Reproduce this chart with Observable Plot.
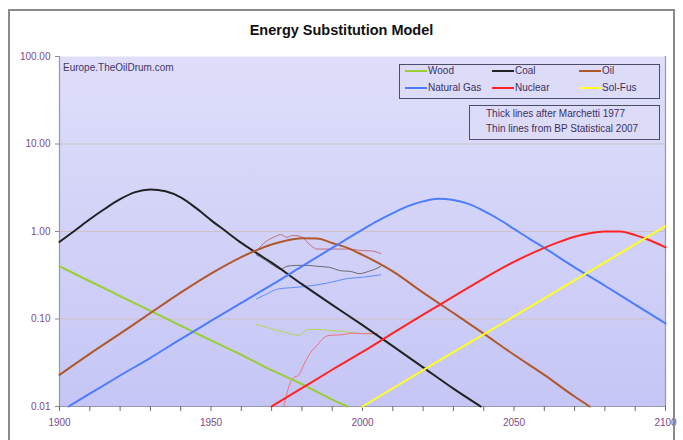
<!DOCTYPE html>
<html>
<head>
<meta charset="utf-8">
<script src="https://cdn.jsdelivr.net/npm/d3@7"></script>
<script src="https://cdn.jsdelivr.net/npm/@observablehq/plot@0.6"></script>
<style>
  html, body { margin: 0; padding: 0; background: #fff; }
  #wrap { position: relative; width: 683px; height: 440px; overflow: hidden; font-family: "Liberation Sans", Arial, sans-serif; }
  #wrap svg { position: absolute; left: 0; top: 0; }
  .abs { position: absolute; }
  #frame { left: 8px; top: 9px; width: 667px; height: 460px; border: 2px solid #8a8a8a; box-sizing: border-box; pointer-events: none; }
  #title { left: 0; width: 683px; top: 22px; text-align: center; font-weight: bold; font-size: 14.5px; color: #111; }
  #src { left: 63px; top: 62px; font-size: 10px; color: #45356a; }
  .box { border: 1.5px solid #4c4c66; background: #dcdcf8; box-sizing: border-box; }
  .item { position: absolute; font-size: 10px; color: #3c3060; white-space: nowrap; line-height: 12px; }
  .sw { position: absolute; height: 2px; width: 22px; }
</style>
</head>
<body>
<div id="wrap"></div>
<script>
// ---- Data (values in fraction units, log scale) ----
// Thick lines: Marchetti 1977 model
const woodYears = [1900, 1910, 1920, 1930, 1940, 1950, 1960, 1970, 1980, 1990, 1995];
const woodVals  = [0.40, 0.27, 0.183, 0.124, 0.084, 0.057, 0.039, 0.026, 0.018, 0.012, 0.010];

const coalYears = [1900, 1905, 1910, 1915, 1920, 1925, 1930, 1935, 1940, 1945, 1950, 1955, 1960, 1965, 1970, 1980, 1990, 2000, 2010, 2020, 2030, 2039];
const coalVals  = [0.76, 1.02, 1.38, 1.82, 2.34, 2.82, 3.02, 2.88, 2.45, 1.86, 1.35, 1.0, 0.74, 0.57, 0.44, 0.25, 0.145, 0.085, 0.049, 0.028, 0.016, 0.010];

const oilYears = [1900, 1910, 1920, 1930, 1940, 1950, 1960, 1970, 1975, 1980, 1985, 1990, 1995, 2000, 2005, 2010, 2020, 2030, 2040, 2050, 2060, 2070, 2075];
const oilVals  = [0.023, 0.040, 0.068, 0.117, 0.20, 0.33, 0.51, 0.71, 0.79, 0.84, 0.83, 0.74, 0.65, 0.54, 0.44, 0.35, 0.20, 0.117, 0.068, 0.039, 0.023, 0.013, 0.010];

const gasYears = [1903, 1910, 1920, 1930, 1940, 1950, 1960, 1970, 1980, 1990, 2000, 2005, 2010, 2015, 2020, 2025, 2030, 2035, 2040, 2045, 2050, 2055, 2060, 2070, 2080, 2090, 2100];
const gasVals  = [0.010, 0.014, 0.0226, 0.036, 0.059, 0.095, 0.153, 0.245, 0.40, 0.65, 1.05, 1.32, 1.62, 1.95, 2.21, 2.37, 2.29, 2.07, 1.72, 1.38, 1.07, 0.83, 0.65, 0.39, 0.24, 0.146, 0.089];

const nucYears = [1970, 1980, 1990, 2000, 2010, 2020, 2030, 2040, 2050, 2060, 2065, 2070, 2075, 2080, 2085, 2090, 2095, 2100];
const nucVals  = [0.010, 0.0162, 0.0263, 0.042, 0.069, 0.112, 0.18, 0.29, 0.45, 0.65, 0.76, 0.87, 0.955, 1.0, 1.0, 0.91, 0.79, 0.66];

const solYears = [2000, 2025, 2050, 2075, 2100];
const solVals  = [0.010, 0.033, 0.107, 0.35, 1.15];

// Thin lines: BP Statistical Review 2007
const bpOilYears = [1965, 1968, 1971, 1973, 1975, 1977, 1979, 1980, 1983, 1985, 1990, 1995, 2000, 2003, 2006];
const bpOilVals  = [0.60, 0.76, 0.87, 0.92, 0.86, 0.90, 0.89, 0.86, 0.69, 0.63, 0.63, 0.63, 0.605, 0.60, 0.56];

const bpCoalYears = [1965, 1968, 1971, 1973, 1975, 1978, 1982, 1985, 1989, 1993, 1996, 1999, 2002, 2004, 2006];
const bpCoalVals  = [0.54, 0.47, 0.40, 0.37, 0.40, 0.41, 0.41, 0.40, 0.39, 0.355, 0.35, 0.33, 0.35, 0.37, 0.40];

const bpGasYears = [1965, 1968, 1972, 1978, 1983, 1989, 1995, 2000, 2006];
const bpGasVals  = [0.17, 0.19, 0.22, 0.23, 0.24, 0.26, 0.29, 0.30, 0.32];

const bpWoodYears = [1965, 1968, 1972, 1976, 1979, 1982, 1985, 1989, 1995, 2000, 2005];
const bpWoodVals  = [0.087, 0.081, 0.074, 0.068, 0.065, 0.076, 0.076, 0.074, 0.071, 0.068, 0.068];

const bpNucYears = [1974, 1976, 1977, 1979, 1981, 1983, 1985, 1987, 1989, 1993, 1997, 2000, 2005];
const bpNucVals  = [0.010, 0.018, 0.021, 0.023, 0.032, 0.042, 0.050, 0.060, 0.065, 0.066, 0.069, 0.068, 0.068];

// Axis ticks
const yTicks = [0.01, 0.1, 1, 10, 100];
const gridVals = [0.1, 1, 10];
const xTicks = d3.range(1900, 2101, 10);
const xLabelYears = [1900, 1950, 2000, 2050, 2100];

// ---- Build series ----
const toRows = (ys, vs) => ys.map((y, i) => ({year: y, value: vs[i]}));
const series = [
  {name: "Wood thin",  rows: toRows(bpWoodYears, bpWoodVals), color: "#b6d45c", w: 1},
  {name: "Nuc thin",   rows: toRows(bpNucYears, bpNucVals),   color: "#f0707a", w: 1},
  {name: "Gas thin",   rows: toRows(bpGasYears, bpGasVals),   color: "#5f8cff", w: 1},
  {name: "Coal thin",  rows: toRows(bpCoalYears, bpCoalVals), color: "#6a6a70", w: 1},
  {name: "Oil thin",   rows: toRows(bpOilYears, bpOilVals),   color: "#c0707a", w: 1},
  {name: "Wood",       rows: toRows(woodYears, woodVals), color: "#9acd32", w: 2},
  {name: "Coal",       rows: toRows(coalYears, coalVals), color: "#222222", w: 2},
  {name: "Oil",        rows: toRows(oilYears, oilVals),   color: "#b0582c", w: 2},
  {name: "Natural Gas",rows: toRows(gasYears, gasVals),   color: "#4d7dff", w: 2},
  {name: "Nuclear",    rows: toRows(nucYears, nucVals),   color: "#ff2424", w: 2},
  {name: "Sol-Fus",    rows: toRows(solYears, solVals),   color: "#ffff22", w: 2}
];

const svg = Plot.plot({
  width: 683,
  height: 440,
  marginLeft: 59,
  marginRight: 18,
  marginTop: 56,
  marginBottom: 34,
  x: {domain: [1900, 2100]},
  y: {type: "log", domain: [0.01, 100]},
  style: {fontFamily: "'Liberation Sans', Arial, sans-serif", fontSize: "10px", color: "#7b4a8b", background: "transparent"},
  marks: [
    Plot.frame({fill: "url(#bg)", stroke: "none"}),
    Plot.ruleY(gridVals, {stroke: "#cbc2c4", strokeWidth: 1}),
    Plot.ruleX([1900, 2100], {stroke: "#9797a8", strokeWidth: 1.2}),
    Plot.ruleY([0.01], {stroke: "#9797a8", strokeWidth: 1.2}),
    Plot.axisY({ticks: yTicks, tickFormat: d3.format(".2f"), tickSize: 4, tickPadding: 5, label: null, stroke: "#8a8a9a"}),
    Plot.axisX({ticks: xTicks, tickFormat: d => xLabelYears.includes(d) ? String(d) : "", tickSize: 5, tickPadding: 7, label: null, stroke: "#6a6a7a"}),
    ...series.map(s => Plot.line(s.rows, {x: "year", y: "value", stroke: s.color, strokeWidth: s.w, curve: "monotone-x"}))
  ]
});

// gradient background for the plot area
const defs = d3.select(svg).insert("defs", ":first-child");
const grad = defs.append("linearGradient").attr("id", "bg").attr("x1", 0).attr("y1", 0).attr("x2", 0).attr("y2", 1);
grad.append("stop").attr("offset", "0%").attr("stop-color", "#dedefa");
grad.append("stop").attr("offset", "100%").attr("stop-color", "#c6c6f6");

const wrap = document.getElementById("wrap");
wrap.appendChild(svg);

// overlay texts and legend
function add(html) { wrap.insertAdjacentHTML("beforeend", html); }
add(`<div id="title" class="abs">Energy Substitution Model</div>`);
add(`<div id="src" class="abs">Europe.TheOilDrum.com</div>`);

const legendItems = [
  {label: "Wood", color: "#9acd32", x: 405, y: 71},
  {label: "Coal", color: "#222222", x: 492, y: 71},
  {label: "Oil", color: "#b0582c", x: 579, y: 71},
  {label: "Natural Gas", color: "#4d7dff", x: 405, y: 88},
  {label: "Nuclear", color: "#ff2424", x: 492, y: 88},
  {label: "Sol-Fus", color: "#ffff22", x: 579, y: 88}
];
add(`<div class="abs box" style="left:399px;top:64px;width:261px;height:35px;"></div>`);
legendItems.forEach(d => {
  add(`<div class="sw" style="left:${d.x}px;top:${d.y - 1}px;background:${d.color};"></div>`);
  add(`<div class="item" style="left:${d.x + 23}px;top:${d.y - 6}px;">${d.label}</div>`);
});
const notes = ["Thick lines after Marchetti 1977", "Thin lines from BP Statistical 2007"];
add(`<div class="abs box" style="left:469px;top:105px;width:191px;height:35px;"></div>`);
notes.forEach((t, i) => add(`<div class="item" style="left:486px;top:${108 + i * 15}px;">${t}</div>`));
add(`<div id="frame" class="abs"></div>`);
</script>
</body>
</html>
